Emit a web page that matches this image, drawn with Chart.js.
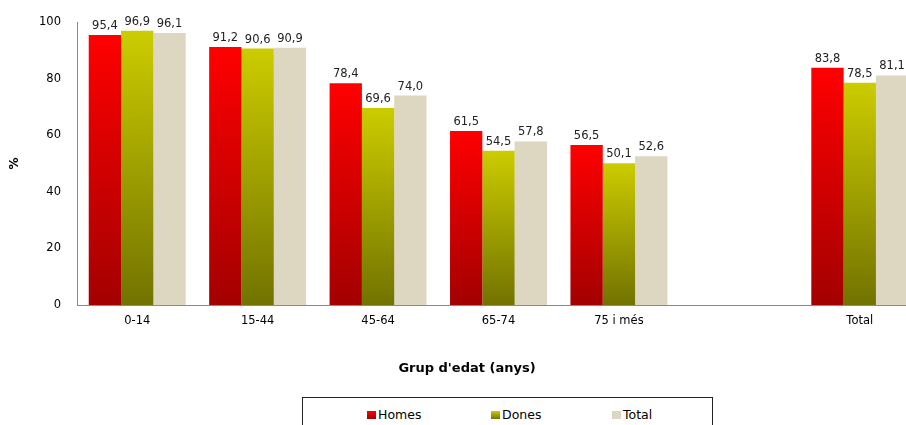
<!DOCTYPE html>
<html>
<head>
<meta charset="utf-8">
<script src="https://cdn.jsdelivr.net/npm/chart.js@4.4.0/dist/chart.umd.min.js"></script>
<style>
    body { margin: 0; overflow: hidden; background: #fff; font-family: "DejaVu Sans", sans-serif; }
    #wrap { position: relative; width: 920px; height: 425px; }
    #legend {
        position: absolute; left: 302px; top: 397px; width: 409px; height: 40px;
        border: 1px solid #222; background: #fff;
    }
    .leg-item { position: absolute; top: 9px; font-size: 12.5px; color: #000; white-space: nowrap; }
    .leg-box { display: inline-block; width: 9px; height: 8px; margin-right: 2px; vertical-align: 0px; }
</style>
</head>
<body>
<div id="wrap">
    <canvas id="chart"></canvas>
    <div id="legend"></div>
</div>
<script>
// --- data ---
const categories = ['0-14', '15-44', '45-64', '65-74', '75 i més', '', 'Total'];
const homes = [95.4, 91.2, 78.4, 61.5, 56.5, null, 83.8];
const dones = [96.9, 90.6, 69.6, 54.5, 50.1, null, 78.5];
const total = [96.1, 90.9, 74.0, 57.8, 52.6, null, 81.1];
const yTicks = [0, 20, 40, 60, 80, 100];

const seriesNames = ['Homes', 'Dones', 'Total'];
const seriesColors = [
    ['#ff0000', '#a30000'],
    ['#cccc00', '#727300'],
    ['#ddd6c1', '#ddd6c1']
];

// vertical gradient spanning each bar, bright on top
function barGradient(top, bottom) {
    return function(context) {
        const { ctx, chartArea, scales } = context.chart;
        const v = context.raw;
        if (!chartArea || v == null) return bottom;
        const y0 = scales.y.getPixelForValue(v);
        const y1 = scales.y.getPixelForValue(0);
        const g = ctx.createLinearGradient(0, y0, 0, y1);
        g.addColorStop(0, top);
        g.addColorStop(1, bottom);
        return g;
    };
}

const valueLabels = {
    id: 'valueLabels',
    afterDatasetsDraw(chart) {
        const ctx = chart.ctx;
        ctx.save();
        ctx.font = '11.5px "DejaVu Sans"';
        ctx.fillStyle = '#222';
        ctx.textAlign = 'center';
        ctx.textBaseline = 'alphabetic';
        chart.data.datasets.forEach((ds, i) => {
            chart.getDatasetMeta(i).data.forEach((el, j) => {
                const v = ds.data[j];
                if (v == null) return;
                ctx.fillText(v.toFixed(1).replace('.', ','), el.x, el.y - 6);
            });
        });
        ctx.restore();
    }
};

// x axis title sits left of the plot's centre in the original
const xTitle = {
    id: 'xTitle',
    afterDraw(chart) {
        const ctx = chart.ctx;
        ctx.save();
        ctx.font = 'bold 13px "DejaVu Sans"';
        ctx.fillStyle = '#000';
        ctx.textAlign = 'center';
        ctx.textBaseline = 'middle';
        ctx.fillText("Grup d'edat (anys)", chart.chartArea.left + 390, 369);
        ctx.restore();
    }
};

const seriesData = [homes, dones, total];

new Chart(document.getElementById('chart'), {
    type: 'bar',
    data: {
        labels: categories,
        datasets: seriesData.map((d, i) => ({
            label: seriesNames[i],
            data: d,
            backgroundColor: barGradient(seriesColors[i][0], seriesColors[i][1]),
            borderWidth: 0,
            categoryPercentage: 0.805,
            barPercentage: 1.0
        }))
    },
    options: {
        responsive: true,
        maintainAspectRatio: false,
        animation: false,
        layout: { padding: { top: 22, right: 0, bottom: 0, left: 0 } },
        plugins: {
            legend: { display: false },
            tooltip: { enabled: false }
        },
        scales: {
            x: {
                grid: { display: false },
                border: { display: true, color: '#8a8a8a', width: 1 },
                ticks: {
                    color: '#000',
                    font: { family: 'DejaVu Sans', size: 11.5 },
                    padding: 1,
                    maxRotation: 0,
                    autoSkip: false
                },
                afterFit(scale) { scale.height = 120; }
            },
            y: {
                min: 0,
                max: 100,
                afterBuildTicks(scale) { scale.ticks = yTicks.map(v => ({ value: v })); },
                grid: { display: false },
                border: { display: true, color: '#8a8a8a', width: 1 },
                ticks: {
                    color: '#000',
                    font: { family: 'DejaVu Sans', size: 11.5 },
                    padding: 8
                },
                title: {
                    display: true,
                    text: '%',
                    color: '#000',
                    font: { family: 'DejaVu Sans', size: 12, weight: 'bold' },
                    padding: { top: 8, bottom: 0 }
                },
                afterFit(scale) { scale.width = 77; }
            }
        }
    },
    plugins: [valueLabels, xTitle]
});

// legend box, as in the original
const legendLeft = [64, 188, 309];
const legend = document.getElementById('legend');
seriesNames.forEach((name, i) => {
    const item = document.createElement('div');
    item.className = 'leg-item';
    item.style.left = legendLeft[i] + 'px';
    const box = document.createElement('span');
    box.className = 'leg-box';
    box.style.background = 'linear-gradient(' + seriesColors[i][0] + ',' + seriesColors[i][1] + ')';
    item.appendChild(box);
    item.appendChild(document.createTextNode(name));
    legend.appendChild(item);
});
</script>
</body>
</html>
